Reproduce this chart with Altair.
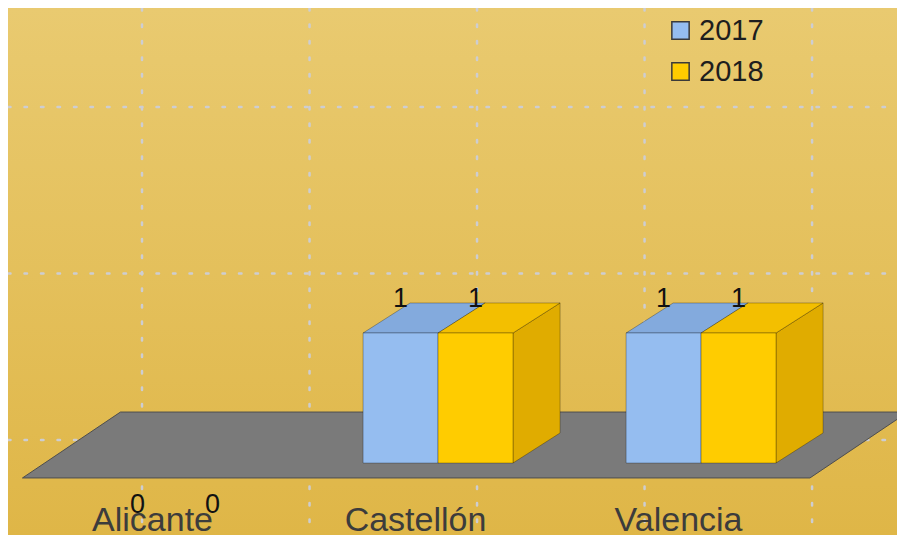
import altair as alt
import pandas as pd

# ---- data ----
categories = ["Alicante", "Castellón", "Valencia"]
years = ["2017", "2018"]
values_2017 = [0, 1, 1]
values_2018 = [0, 1, 1]
grid_x = [0, 1, 2, 3, 4]   # back-wall vertical gridlines
grid_y = [0, 1, 2]         # back-wall horizontal gridlines

# ---- styling / geometry constants (data units of the scales) ----
BAR_W = 0.285      # width of one bar (category-index units)
DEPTH_X = 0.179    # 3D depth offset, horizontal
DEPTH_Y = 0.231    # 3D depth offset, vertical (value units)
X_DOMAIN = [-0.635, 2.745]
Y_DOMAIN = [-0.5538, 3.5]
GX_DOMAIN = [-0.8, 4.507]
GY_DOMAIN = [-0.5706, 2.5946]

FRONT = ["#95bdf0", "#ffcc00"]
TOP = ["#83aadd", "#f3bf00"]
SIDE = ["#7a9fd0", "#e0ac00"]
FONT = "Liberation Sans"
GRID_COLOR = "#cdcdd2"

series = {"2017": values_2017, "2018": values_2018}

bars, tops, sides = [], [], []
for i, cat in enumerate(categories):
    for j, yr in enumerate(years):
        v = series[yr][i]
        x0 = i - BAR_W + j * BAR_W
        x1 = x0 + BAR_W
        bid = f"{cat}-{yr}"
        bars.append(dict(bar=bid, category=cat, year=yr, value=v,
                         x0=x0, x1=x1, xc=(x0 + x1) / 2, base=0))
        tops.append(dict(bar=bid, year=yr, value=v, y=v, xa=x0, xb=x1))
        tops.append(dict(bar=bid, year=yr, value=v, y=v + DEPTH_Y,
                         xa=x0 + DEPTH_X, xb=x1 + DEPTH_X))
        sides.append(dict(bar=bid, year=yr, value=v, x=x1, ylo=0, yhi=v))
        sides.append(dict(bar=bid, year=yr, value=v, x=x1 + DEPTH_X,
                          ylo=DEPTH_Y, yhi=v + DEPTH_Y))

bars_df = pd.DataFrame(bars)
tops_df = pd.DataFrame(tops)
sides_df = pd.DataFrame(sides)

n = len(categories)
floor_df = pd.DataFrame([
    dict(y=-0.115, xa=-0.58, xb=n - 1 + 0.414),
    dict(y=0.392, xa=-0.58 + 0.3726, xb=n - 1 + 0.414 + 0.3726),
])

xs = alt.Scale(domain=X_DOMAIN, nice=False, zero=False)
ys = alt.Scale(domain=Y_DOMAIN, nice=False, zero=False)

label_expr = "[" + ",".join(f"'{c}'" for c in categories) + "][datum.value]"
x_axis = alt.Axis(orient="bottom", values=list(range(n)), labelExpr=label_expr,
                  title=None, ticks=False, tickSize=0, domain=False, grid=False,
                  labelFont=FONT, labelFontSize=34, labelColor="#3c3c3c",
                  labelPadding=3, labelBaseline="alphabetic", labelOffset=-23,
                  labelFlush=False, labelOverlap=False, offset=-8, zindex=2)

# background panel with vertical gradient
bg = alt.Chart(pd.DataFrame({"k": [0]})).mark_rect(
    fill=alt.LinearGradient(gradient="linear", x1=0, y1=0, x2=0, y2=1,
                            stops=[alt.GradientStop(offset=0, color="#e9ca70"),
                                   alt.GradientStop(offset=1, color="#dfb647")])
).encode(x=alt.value(0), x2=alt.value("width"), y=alt.value(0), y2=alt.value("height"))

# dotted gridlines on the back wall
vgrid = alt.Chart(pd.DataFrame({"gx": grid_x})).mark_rule(
    color=GRID_COLOR, strokeWidth=2.5, strokeDash=[2.5, 14], strokeCap="round").encode(
    x=alt.X("gx:Q", scale=alt.Scale(domain=GX_DOMAIN, nice=False, zero=False), axis=None),
    y=alt.value(0), y2=alt.value("height"),
)
hgrid = alt.Chart(pd.DataFrame({"gy": grid_y})).mark_rule(
    color=GRID_COLOR, strokeWidth=2.5, strokeDash=[2.5, 14], strokeCap="round").encode(
    y=alt.Y("gy:Q", scale=alt.Scale(domain=GY_DOMAIN, nice=False, zero=False), axis=None),
    x=alt.value(0), x2=alt.value("width"),
)

floor = alt.Chart(floor_df).mark_area(orient="horizontal", fill="#7a7a7a",
                                      stroke="#4e4e4e", strokeWidth=1).encode(
    y=alt.Y("y:Q", scale=ys, axis=None),
    x=alt.X("xa:Q", scale=xs, axis=None),
    x2="xb:Q",
)

side = alt.Chart(sides_df).transform_filter("datum.value > 0").mark_area(
    orient="vertical", stroke="#000", strokeOpacity=0.28, strokeWidth=1).encode(
    x=alt.X("x:Q", scale=xs, axis=None),
    y=alt.Y("ylo:Q", scale=ys, axis=None),
    y2="yhi:Q",
    detail="bar:N",
    fill=alt.Fill("year:N", scale=alt.Scale(domain=years, range=SIDE), legend=None),
)

top = alt.Chart(tops_df).transform_filter("datum.value > 0").mark_area(
    orient="horizontal", stroke="#000", strokeOpacity=0.28, strokeWidth=1).encode(
    y=alt.Y("y:Q", scale=ys, axis=None),
    x=alt.X("xa:Q", scale=xs, axis=None),
    x2="xb:Q",
    detail="bar:N",
    fill=alt.Fill("year:N", scale=alt.Scale(domain=years, range=TOP), legend=None),
)

front = alt.Chart(bars_df).transform_filter("datum.value > 0").mark_rect(
    stroke="#000", strokeOpacity=0.28, strokeWidth=1).encode(
    x=alt.X("x0:Q", scale=xs, axis=x_axis),
    x2="x1:Q",
    y=alt.Y("base:Q", scale=ys, axis=None),
    y2="value:Q",
    fill=alt.Fill("year:N", scale=alt.Scale(domain=years, range=FRONT),
                  legend=alt.Legend(title=None, orient="none", legendX=658, legendY=8,
                                    symbolType="square", symbolSize=300,
                                    symbolStrokeColor="#3a3a3a", symbolStrokeWidth=1.5,
                                    labelFont=FONT, labelFontSize=29, labelColor="#1e1e1e",
                                    labelOffset=4, rowPadding=11, padding=0)),
)

vlab_pos = alt.Chart(bars_df).transform_filter("datum.value > 0").mark_text(
    font=FONT, fontSize=27, color="#111", baseline="alphabetic", dy=-26).encode(
    x=alt.X("xc:Q", scale=xs, axis=None),
    y=alt.Y("value:Q", scale=ys, axis=None),
    text="value:Q",
)

vlab_zero = alt.Chart(bars_df).transform_filter("datum.value == 0").mark_text(
    font=FONT, fontSize=27, color="#111", baseline="alphabetic", dy=50).encode(
    x=alt.X("xc:Q", scale=xs, axis=None),
    y=alt.Y("value:Q", scale=ys, axis=None),
    text="value:Q",
)

chart = alt.layer(bg, vgrid, hgrid, floor, side, top, front, vlab_pos, vlab_zero).resolve_scale(
    x="independent", y="independent", fill="independent"
).properties(
    width=889, height=527, autosize="none", padding=0, background="#e4c05c"
).configure_view(strokeWidth=0)

chart.save("out.html", embed_options={"renderer": "svg", "actions": False})
